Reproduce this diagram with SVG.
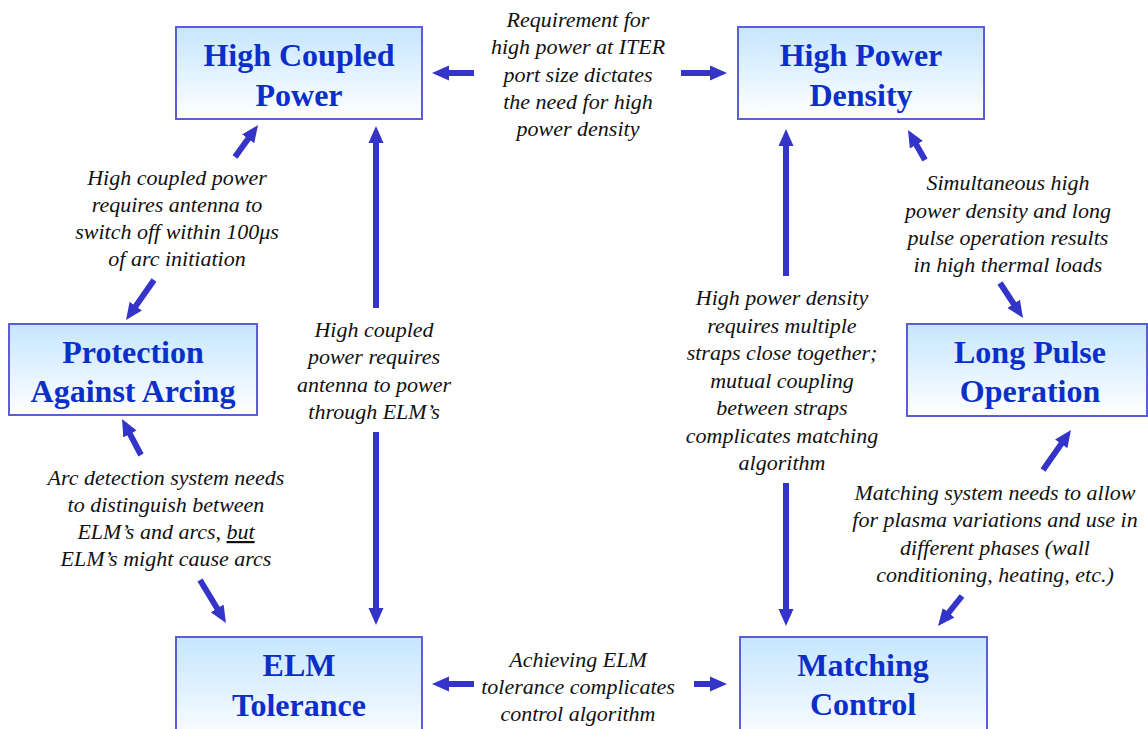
<svg xmlns="http://www.w3.org/2000/svg" width="1148" height="729" viewBox="0 0 1148 729">
<defs>
<linearGradient id="bg" x1="0" y1="0" x2="0" y2="1">
<stop offset="0" stop-color="#c6e6ff"/>
<stop offset="1" stop-color="#ffffff"/>
</linearGradient>
<marker id="ah" markerUnits="userSpaceOnUse" markerWidth="17" markerHeight="16" viewBox="0 -8 17 16" refX="1" refY="0" orient="auto">
<path d="M0,-7.5 L17,0 L0,7.5 z" fill="#3434c8"/>
</marker>
<style>
text{font-family:"Liberation Serif",Tinos,"Times New Roman",Times,"Nimbus Roman","DejaVu Serif","Noto Serif",serif}
.box{fill:url(#bg);stroke:#5d5dd6;stroke-width:2}
.title{font-weight:bold;font-size:32px;fill:#0b2fc8;text-anchor:middle}
.lbl{font-style:italic;font-size:22px;fill:#111;text-anchor:middle}
.c{stroke:#3434c8;stroke-width:6;fill:none;marker-end:url(#ah)}
</style>
</defs>
<rect width="1148" height="729" fill="#fff"/>
<g id="high-coupled-power">
<rect class="box" x="176" y="27" width="246" height="92"/>
<text class="title" x="299" y="66">High Coupled</text>
<text class="title" x="299" y="106">Power</text>
</g>
<g id="high-power-density">
<rect class="box" x="738" y="27" width="246" height="92"/>
<text class="title" x="861" y="66">High Power</text>
<text class="title" x="861" y="106">Density</text>
</g>
<g id="protection-against-arcing">
<rect class="box" x="9" y="324" width="248" height="91"/>
<text class="title" x="133" y="363">Protection</text>
<text class="title" x="133" y="402">Against Arcing</text>
</g>
<g id="long-pulse-operation">
<rect class="box" x="907" y="324" width="240" height="92"/>
<text class="title" x="1030" y="363">Long Pulse</text>
<text class="title" x="1030" y="402">Operation</text>
</g>
<g id="elm-tolerance">
<rect class="box" x="176" y="637" width="246" height="110"/>
<text class="title" x="299" y="676">ELM</text>
<text class="title" x="299" y="716">Tolerance</text>
</g>
<g id="matching-control">
<rect class="box" x="740" y="637" width="247" height="110"/>
<text class="title" x="863" y="676">Matching</text>
<text class="title" x="863" y="715">Control</text>
</g>
<g id="connectors">
<path class="c" d="M474,73 L448,73"/>
<path class="c" d="M681,73 L711,73"/>
<path class="c" d="M474,684 L448,684"/>
<path class="c" d="M694,684 L711,684"/>
<path class="c" d="M376,308 L376,142"/>
<path class="c" d="M376,432 L376,609"/>
<path class="c" d="M786,276 L786,145"/>
<path class="c" d="M786,483 L786,610"/>
<path class="c" d="M235,157 L248.7,138"/>
<path class="c" d="M154,280 L135.2,306.9"/>
<path class="c" d="M141,455 L129.5,433.2"/>
<path class="c" d="M200,580 L217.7,609.3"/>
<path class="c" d="M925,160 L915.9,143.9"/>
<path class="c" d="M1000,283 L1014.2,304.6"/>
<path class="c" d="M1043,470 L1061.8,443.1"/>
<path class="c" d="M962,596 L948,613.5"/>
</g>
<g id="labels">
<text class="lbl"><tspan x="578" y="27">Requirement for</tspan><tspan x="578" y="54">high power at ITER</tspan><tspan x="578" y="82">port size dictates</tspan><tspan x="578" y="109">the need for high</tspan><tspan x="578" y="136">power density</tspan></text>
<text class="lbl"><tspan x="177" y="185">High coupled power</tspan><tspan x="177" y="212">requires antenna to</tspan><tspan x="177" y="239">switch off within 100μs</tspan><tspan x="177" y="266">of arc initiation</tspan></text>
<text class="lbl"><tspan x="374" y="337">High coupled</tspan><tspan x="374" y="364">power requires</tspan><tspan x="374" y="392">antenna to power</tspan><tspan x="374" y="419">through ELM’s</tspan></text>
<text class="lbl"><tspan x="782" y="305">High power density</tspan><tspan x="782" y="333">requires multiple</tspan><tspan x="782" y="360">straps close together;</tspan><tspan x="782" y="388">mutual coupling</tspan><tspan x="782" y="415">between straps</tspan><tspan x="782" y="443">complicates matching</tspan><tspan x="782" y="470">algorithm</tspan></text>
<text class="lbl"><tspan x="1008" y="190">Simultaneous high</tspan><tspan x="1008" y="218">power density and long</tspan><tspan x="1008" y="245">pulse operation results</tspan><tspan x="1008" y="272">in high thermal loads</tspan></text>
<text class="lbl"><tspan x="995" y="500">Matching system needs to allow</tspan><tspan x="995" y="527">for plasma variations and use in</tspan><tspan x="995" y="555">different phases (wall</tspan><tspan x="995" y="582">conditioning, heating, etc.)</tspan></text>
<text class="lbl"><tspan x="166" y="485">Arc detection system needs</tspan><tspan x="166" y="512">to distinguish between</tspan><tspan x="166" y="539">ELM’s and arcs, <tspan text-decoration="underline">but</tspan></tspan><tspan x="166" y="566">ELM’s might cause arcs</tspan></text>
<text class="lbl"><tspan x="578" y="667">Achieving ELM</tspan><tspan x="578" y="694">tolerance complicates</tspan><tspan x="578" y="721">control algorithm</tspan></text>
</g>
</svg>
